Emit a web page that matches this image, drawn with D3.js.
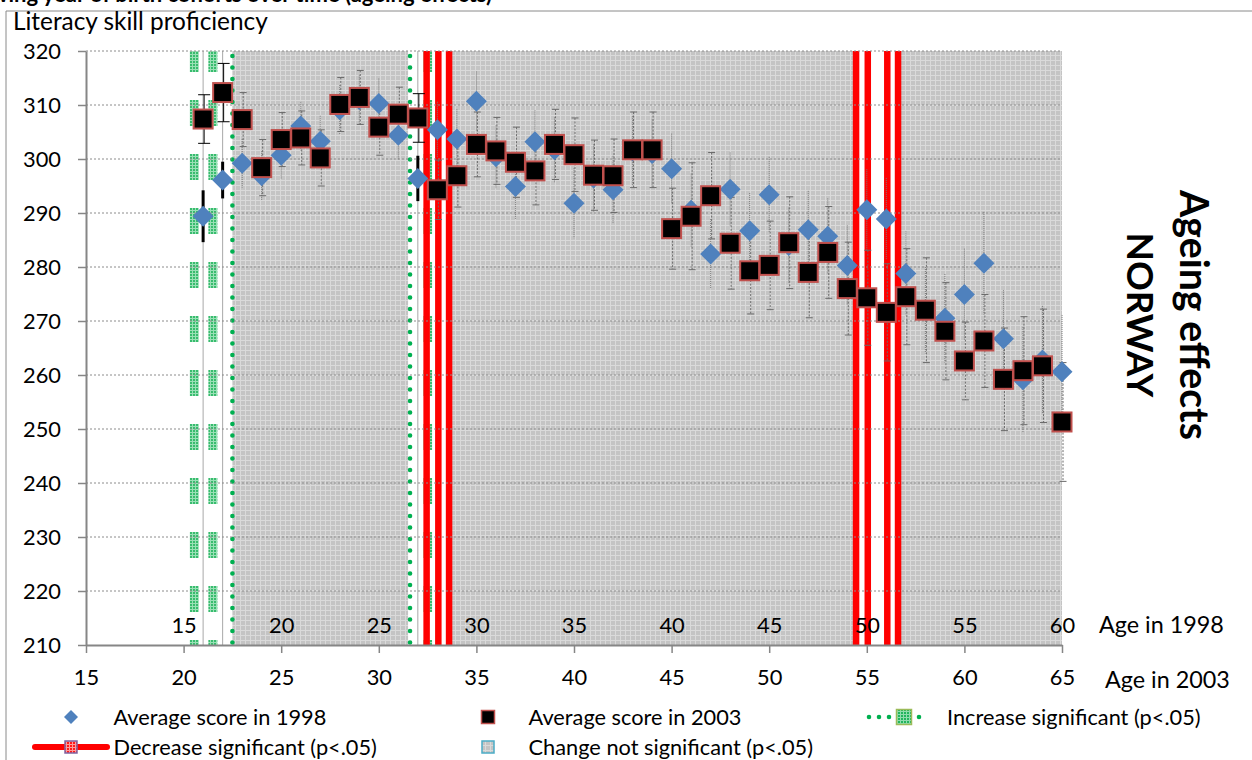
<!DOCTYPE html>
<html><head><meta charset="utf-8">
<script src="https://cdn.jsdelivr.net/npm/d3@7"></script>
<style>
html,body{margin:0;padding:0;background:#fff;}
svg{display:block;font-family:Lato,"Open Sans",sans-serif;}
</style></head>
<body><svg id="chart" width="1252" height="760"></svg>
<script>
// ---------------- data ----------------
const ages = [21,22,23,24,25,26,27,28,29,30,31,32,33,34,35,36,37,38,39,40,41,42,43,44,45,46,47,48,49,50,51,52,53,54,55,56,57,58,59,60,61,62,63,64,65];
const score1998 = [289.4,296.1,299.2,296.9,300.7,306.1,303.3,309.1,311.0,310.3,
                   304.4,296.4,305.4,303.7,310.7,300.4,294.9,303.2,301.7,291.8,
                   296.5,294.3,301.5,301.0,298.2,290.5,282.4,294.4,286.7,293.4,
                   284.0,286.9,285.7,280.3,290.6,288.9,278.8,272.0,270.5,274.9,
                   280.7,266.7,259.1,262.8,260.6];
const score2003 = [307.4,312.3,307.3,298.4,303.6,303.9,300.2,310.1,311.4,305.9,
                   308.3,307.6,294.3,296.9,302.7,301.5,299.4,297.8,302.7,300.8,
                   297.0,296.9,301.7,301.7,287.1,289.4,293.2,284.4,279.3,280.3,
                   284.5,279.0,282.7,276.0,274.3,271.6,274.5,272.0,268.1,262.6,
                   266.3,259.2,260.8,261.7,251.3];
const err1998 = [4.8,3.4,4.5,4.6,4.4,4.5,4.7,4.6,4.5,4.6,4.6,4.2,5.2,5.5,
                 5.5,5.8,6.0,5.8,6.0,6.5,6.2,6.3,6.5,6.3,6.5,6.8,6.5,6.8,7.0,7.0,
                 7.0,7.2,7.0,7.4,7.5,7.6,7.8,8.0,8.2,8.5,
                 9.5,9.0,9.8,10.0,10.5];
const err2003 = [4.5,5.4,5.0,5.2,5.0,5.0,5.2,5.0,5.0,5.2,5.0,4.5,5.5,5.8,
                 6.0,6.2,6.5,6.3,6.5,6.8,6.5,6.8,7.0,7.0,7.5,9.9,8.0,8.5,8.0,8.2,
                 8.5,8.4,8.5,8.6,8.8,9.0,8.9,9.7,9.0,7.2,
                 8.6,9.5,10.0,10.5,11.0];
const increaseAges = [21,22,32];
const decreaseAges = [33,55,56];
const increaseDotLines = [22.5,31.6];
const increaseBlockLines = [20.55,21.5,32.5];
const decreaseLines = [32.45,33.05,33.6,54.45,55.05,56.05,56.6];
const yTickValues = [210,220,230,240,250,260,270,280,290,300,310,320];
const xTicks2003 = [15,20,25,30,35,40,45,50,55,60,65];
const xTicks1998 = [15,20,25,30,35,40,45,50,55,60];
const yTitle = "Literacy skill proficiency";
const topTitle = "Following year of birth cohorts over time (ageing effects)";
const sideTitle = ["Ageing effects","NORWAY"];
const axisTitle1998 = "Age in 1998";
const axisTitle2003 = "Age in 2003";
const legendLabels = ["Average score in 1998","Average score in 2003","Increase significant (p<.05)",
                      "Decrease significant (p<.05)","Change not significant (p<.05)"];

// ---------------- setup ----------------
const svg = d3.select('#chart');
const L = 86, R = 1062, T = 51, B = 645;
const x = d3.scaleLinear().domain([15,65]).range([L,R]);
const x1998 = d3.scaleLinear().domain([10,60]).range([L,R]);
const y = d3.scaleLinear().domain([210,320]).range([B,T]);

function fitSize(sel, target){
  const w = sel.node().getComputedTextLength();
  const fs = parseFloat(sel.attr('font-size'));
  const n = fs*target/w;
  sel.attr('font-size', n);
  return n;
}

const defs = svg.append('defs');
function pattern(id, base, light, size){
  const p = defs.append('pattern').attr('id',id).attr('patternUnits','userSpaceOnUse')
    .attr('width',size).attr('height',size);
  p.append('rect').attr('width',size).attr('height',size).attr('fill',base);
  p.append('rect').attr('width',size).attr('height',1).attr('fill',light);
  p.append('rect').attr('width',1).attr('height',size).attr('fill',light);
  return p;
}
pattern('grayPat','#c4c4c4','#dadada',5);
pattern('greenPat','#22b55e','#8fdcae',3);
pattern('redPat','#ff1a1a','#ff9a9a',3);
defs.append('clipPath').attr('id','plotClip').append('rect')
  .attr('x',L).attr('y',T).attr('width',R-L).attr('height',B-T);

// frame
svg.append('path').attr('d','M6,760 V11 H1252').attr('fill','none').attr('stroke','#8a8a8a').attr('stroke-width',1);

// title (cut at top edge, as in the source)
svg.append('text').attr('x',492).attr('y',2).attr('text-anchor','end')
  .attr('font-weight','bold').attr('font-size',22).text(topTitle);

const plot = svg.append('g').attr('clip-path','url(#plotClip)');

// gray "change not significant" columns
const nonSig = ages.filter(a => !increaseAges.includes(a) && !decreaseAges.includes(a));
const runs = [];
nonSig.forEach(a => {
  const last = runs[runs.length-1];
  if (last && a === last[1]+1) last[1] = a; else runs.push([a,a]);
});
plot.selectAll('rect.gray').data(runs).join('rect').attr('class','gray')
  .attr('x', d => x(d[0]-0.5)).attr('width', d => x(Math.min(d[1]+0.5,65)) - x(d[0]-0.5))
  .attr('y',T).attr('height',B-T).attr('fill','url(#grayPat)');

// thin lines at increase ages
plot.selectAll('line.incl').data(increaseAges).join('line').attr('class','incl')
  .attr('x1',d=>x(d)).attr('x2',d=>x(d)).attr('y1',T).attr('y2',B)
  .attr('stroke','#a8a8a8').attr('stroke-width',1);

// gridlines
svg.selectAll('line.grid').data(yTickValues.filter(v=>v>210)).join('line').attr('class','grid')
  .attr('x1',L).attr('x2',R).attr('y1',d=>y(d)).attr('y2',d=>y(d))
  .attr('stroke','#8c8c8c').attr('stroke-width',1).attr('stroke-dasharray','2,2');

// increase significant: hatched blocks
const blockData = [];
increaseBlockLines.forEach(a => yTickValues.forEach(v => blockData.push([a,v])));
plot.selectAll('rect.gblk').data(blockData).join('rect').attr('class','gblk')
  .attr('x',d=>x(d[0])-4.5).attr('width',9)
  .attr('y',d=>y(d[1])-5).attr('height',26).attr('fill','url(#greenPat)').attr('opacity',0.9);
// increase significant: dotted lines
plot.selectAll('line.gdot').data(increaseDotLines).join('line').attr('class','gdot')
  .attr('x1',d=>x(d)).attr('x2',d=>x(d)).attr('y1',y(320)+5).attr('y2',B)
  .attr('stroke','#00b050').attr('stroke-width',4.6).attr('stroke-linecap','round')
  .attr('stroke-dasharray','0,11.5');
// decrease significant: thick red lines
plot.selectAll('line.red').data(decreaseLines).join('line').attr('class','red')
  .attr('x1',d=>x(d)).attr('x2',d=>x(d)).attr('y1',T).attr('y2',B)
  .attr('stroke','#ff0000').attr('stroke-width',6.5);

// error bars
const pts = ages.map((a,i)=>({age:a, v98:score1998[i], v03:score2003[i], e98:err1998[i], e03:err2003[i],
  inc: increaseAges.includes(a)}));
const eb = svg.append('g');
pts.forEach(p => {
  const cx = x(p.age);
  // 1998
  eb.append('line').attr('x1',cx).attr('x2',cx).attr('y1',y(p.v98+p.e98)).attr('y2',y(p.v98-p.e98))
    .attr('stroke', p.inc ? '#000' : '#7a7a7a').attr('stroke-width', p.inc ? 3 : 1)
    .attr('stroke-dasharray', p.inc ? null : '1,1');
  // 2003
  const c = p.inc ? '#000' : '#6a6a6a', cw = p.inc ? 6 : 3.5;
  eb.append('line').attr('x1',cx+1).attr('x2',cx+1).attr('y1',y(p.v03+p.e03)).attr('y2',y(p.v03-p.e03))
    .attr('stroke',c).attr('stroke-width',1).attr('stroke-dasharray', p.inc ? null : '2,1.5');
  [p.v03+p.e03, p.v03-p.e03].forEach(v => eb.append('line')
    .attr('x1',cx+1-cw).attr('x2',cx+1+cw).attr('y1',y(v)).attr('y2',y(v))
    .attr('stroke',c).attr('stroke-width',1));
});

// markers
svg.selectAll('path.d98').data(pts).join('path').attr('class','d98')
  .attr('d','M0,-10.5L10.5,0L0,10.5L-10.5,0Z')
  .attr('transform',d=>`translate(${x(d.age)},${y(d.v98)})`).attr('fill','#4f81bd');
svg.selectAll('rect.s03').data(pts).join('rect').attr('class','s03')
  .attr('x',d=>x(d.age)-9.5).attr('y',d=>y(d.v03)-9.5).attr('width',19).attr('height',19)
  .attr('fill','#000').attr('stroke','#c0504d').attr('stroke-width',2);

// axes
const yAxis = svg.append('g').attr('transform',`translate(${L},0)`)
  .call(d3.axisLeft(y).tickValues(yTickValues).tickSize(8).tickSizeOuter(0).tickPadding(17));
const xAxis = svg.append('g').attr('transform',`translate(0,${B})`)
  .call(d3.axisBottom(x).tickValues(xTicks2003).tickSize(8).tickSizeOuter(0).tickPadding(16));
const xTop = svg.append('g').attr('transform',`translate(0,${B})`)
  .call(d3.axisTop(x1998).tickValues(xTicks1998).tickSize(0).tickPadding(12));
xTop.select('.domain').remove();
[yAxis,xAxis].forEach(g => {
  g.select('.domain').attr('stroke','#868686').attr('stroke-width',2);
  g.selectAll('.tick line').attr('stroke','#868686').attr('stroke-width',1.5);
});
[yAxis,xAxis,xTop].forEach(g => g.selectAll('text').attr('font-family','Lato, sans-serif').attr('fill','#000'));
const probe = yAxis.selectAll('text').filter(d=>d===320);
probe.attr('font-size',20);
const tickFs = fitSize(probe, 38);
[yAxis,xAxis,xTop].forEach(g => g.selectAll('text').attr('font-size',tickFs));
yAxis.selectAll('text').attr('dy','0.36em');
xAxis.selectAll('text').attr('dy','0.71em');

// axis titles
const yt = svg.append('text').attr('x',13).attr('y',30).attr('font-size',20).text(yTitle);
fitSize(yt,255);
const a98 = svg.append('text').attr('x',1099).attr('y',633).attr('font-size',20).text(axisTitle1998);
const axFs = fitSize(a98,125);
svg.append('text').attr('x',1105).attr('y',688).attr('font-size',axFs).text(axisTitle2003);

// side title
const s1 = svg.append('text').attr('transform','translate(1180,315) rotate(90)').attr('text-anchor','middle')
  .attr('font-weight','bold').attr('font-size',30).text(sideTitle[0]);
fitSize(s1,250);
const s2 = svg.append('text').attr('transform','translate(1127,315) rotate(90)').attr('text-anchor','middle')
  .attr('font-weight','bold').attr('font-size',30).text(sideTitle[1]);
fitSize(s2,165);

// legend
const lg = svg.append('g');
const r1 = 717, r2 = 747;
const lt = (xx,yy,t) => lg.append('text').attr('x',xx).attr('y',yy).attr('dy','0.35em').attr('font-size',20).text(t);
const t0 = lt(113.5,r1,legendLabels[0]);
const legFs = fitSize(t0,213);
lt(528.6,r1,legendLabels[1]).attr('font-size',legFs);
lt(947,r1,legendLabels[2]).attr('font-size',legFs);
lt(113.5,r2,legendLabels[3]).attr('font-size',legFs);
lt(528.6,r2,legendLabels[4]).attr('font-size',legFs);
lg.append('path').attr('d','M0,-7L7,0L0,7L-7,0Z').attr('transform',`translate(71,${r1})`).attr('fill','#4f81bd');
lg.append('rect').attr('x',488-6.5).attr('y',r1-6.5).attr('width',13).attr('height',13)
  .attr('fill','#000').attr('stroke','#c0504d').attr('stroke-width',1.5);
lg.append('line').attr('x1',869).attr('x2',929).attr('y1',r1).attr('y2',r1)
  .attr('stroke','#00b050').attr('stroke-width',4.6).attr('stroke-linecap','round').attr('stroke-dasharray','0,10');
lg.append('rect').attr('x',904-7.5).attr('y',r1-7.5).attr('width',15).attr('height',15)
  .attr('fill','url(#greenPat)').attr('stroke','#9bbb59').attr('stroke-width',1.5);
lg.append('line').attr('x1',35).attr('x2',107).attr('y1',r2).attr('y2',r2)
  .attr('stroke','#ff0000').attr('stroke-width',6).attr('stroke-linecap','round');
lg.append('rect').attr('x',71-6).attr('y',r2-6).attr('width',12).attr('height',12)
  .attr('fill','url(#redPat)').attr('stroke','#8064a2').attr('stroke-width',1.5);
lg.append('rect').attr('x',488-6).attr('y',r2-6).attr('width',12).attr('height',12)
  .attr('fill','url(#grayPat)').attr('stroke','#4bacc6').attr('stroke-width',1.5);
</script>
</body></html>
